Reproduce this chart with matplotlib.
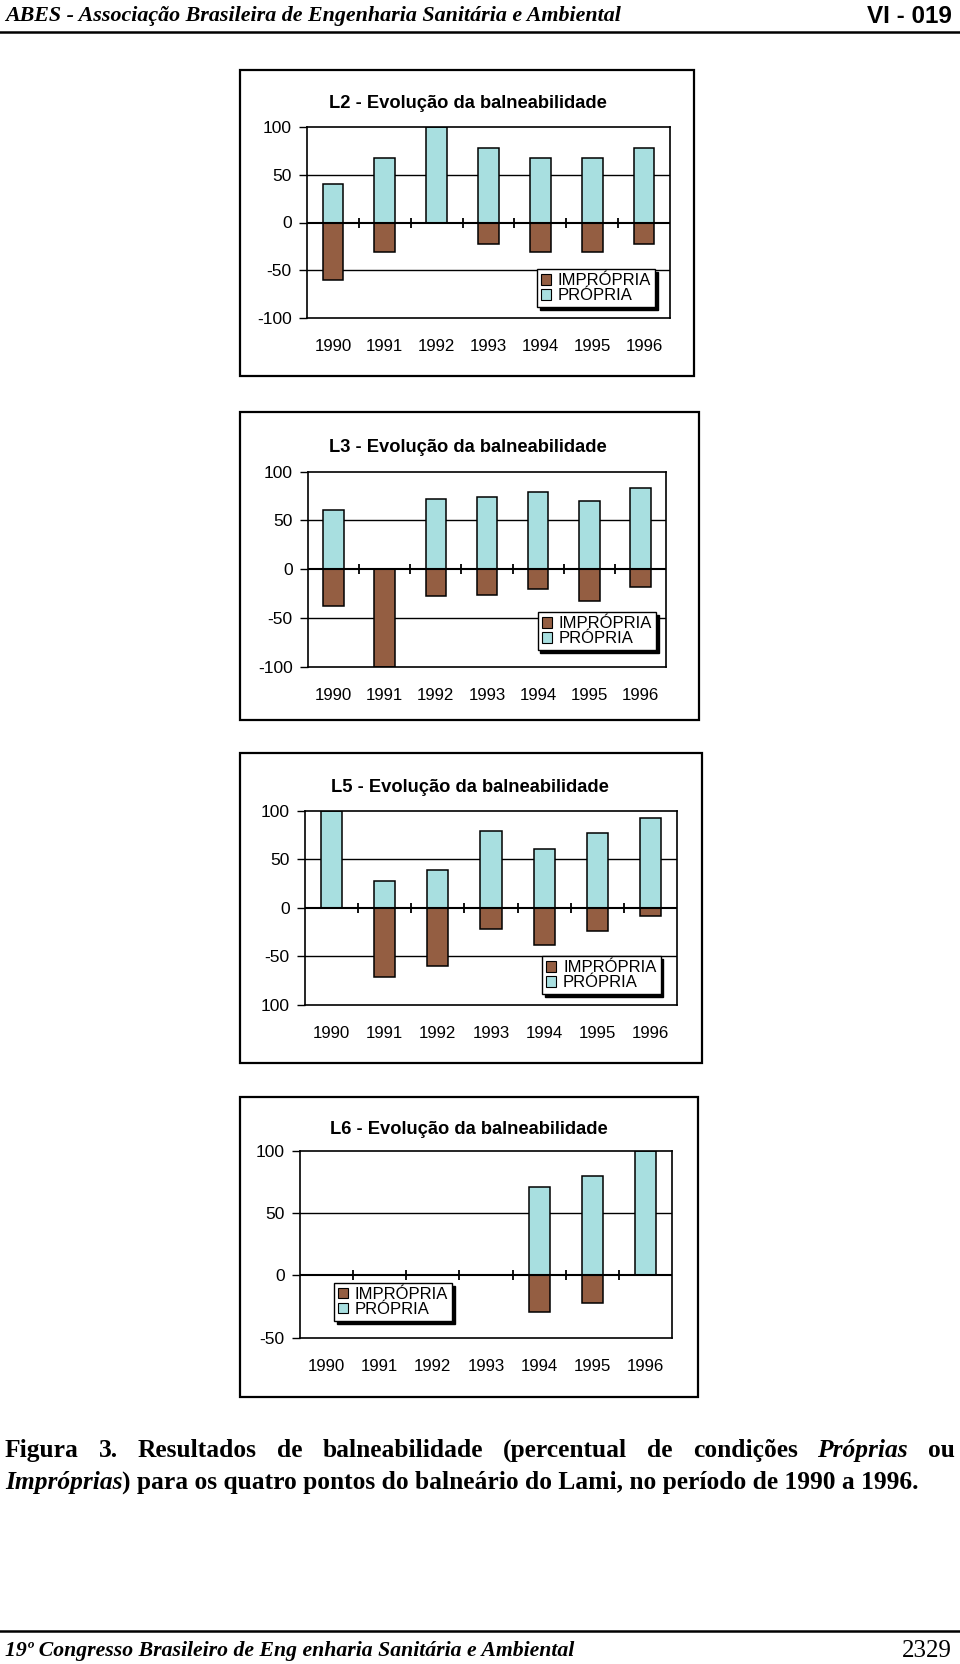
import matplotlib
matplotlib.use("Agg")
import matplotlib.pyplot as plt
from matplotlib.patches import Rectangle, Patch
import numpy as np

# ---------------- data ----------------
years = ["1990", "1991", "1992", "1993", "1994", "1995", "1996"]

l2_propria = [40, 67, 100, 78, 67, 67, 78]
l2_impropria = [60, 31, 0, 22, 31, 31, 22]

l3_propria = [61, 0, 72, 74, 79, 70, 83]
l3_impropria = [38, 100, 27, 26, 20, 33, 18]

l5_propria = [100, 28, 39, 79, 61, 77, 92]
l5_impropria = [0, 71, 60, 22, 38, 24, 8]

l6_propria = [0, 0, 0, 0, 71, 80, 100]
l6_impropria = [0, 0, 0, 0, 29, 22, 0]

titles = ["L2 - Evolução da balneabilidade", "L3 - Evolução da balneabilidade",
          "L5 - Evolução da balneabilidade", "L6 - Evolução da balneabilidade"]
yticks_full = [100, 50, 0, -50, -100]
ytick_labels_l2 = ["100", "50", "0", "-50", "-100"]
ytick_labels_l3 = ["100", "50", "0", "-50", "-100"]
ytick_labels_l5 = ["100", "50", "0", "-50", "100"]
yticks_l6 = [100, 50, 0, -50]
ytick_labels_l6 = ["100", "50", "0", "-50"]
legend_labels = ["IMPRÓPRIA", "PRÓPRIA"]

header_left = "ABES - Associação Brasileira de Engenharia Sanitária e Ambiental"
header_right = "VI - 019"
footer_left = "19º Congresso Brasileiro de Eng enharia Sanitária e Ambiental"
footer_right = "2329"

# ---------------- style ----------------
W, H = 960, 1664
BROWN = "#945e42"
CYAN = "#a8dfe0"
SANS = ["Liberation Sans", "DejaVu Sans"]
SERIF = ["Liberation Serif", "DejaVu Serif"]

fig = plt.figure(figsize=(W / 100, H / 100), dpi=100)
fig.patch.set_facecolor("white")


def fx(x):
    return x / W


def fy(y):
    return 1 - y / H


def add_axes_px(x0, y0, x1, y1):
    return fig.add_axes([fx(x0), fy(y1), fx(x1 - x0), (y1 - y0) / H])


charts = [
    dict(box=(240, 70, 694, 376), plot=(307, 126.7, 670, 318.3), ylim=(-100, 100),
         yt=yticks_full, ytl=ytick_labels_l2, title=titles[0], tpos=(468, 103),
         pro=l2_propria, imp=l2_impropria, leg=("upper right", (0.959, 0.257))),
    dict(box=(240, 412, 699, 720), plot=(308, 471.7, 666, 666.7), ylim=(-100, 100),
         yt=yticks_full, ytl=ytick_labels_l3, title=titles[1], tpos=(468, 447),
         pro=l3_propria, imp=l3_impropria, leg=("upper right", (0.972, 0.280))),
    dict(box=(240, 753, 702, 1063), plot=(305, 810.7, 677, 1005), ylim=(-100, 100),
         yt=yticks_full, ytl=ytick_labels_l5, title=titles[2], tpos=(470, 788),
         pro=l5_propria, imp=l5_impropria, leg=("upper right", (0.956, 0.252))),
    dict(box=(240, 1097, 698, 1397), plot=(300, 1150.7, 672, 1337.7), ylim=(-50, 100),
         yt=yticks_l6, ytl=ytick_labels_l6, title=titles[3], tpos=(469, 1129),
         pro=l6_propria, imp=l6_impropria, leg=("upper left", (0.091, 0.293))),
]

for c in charts:
    bx0, by0, bx1, by1 = c["box"]
    fig.patches.append(Rectangle((fx(bx0), fy(by1)), fx(bx1 - bx0), (by1 - by0) / H,
                                 transform=fig.transFigure, fill=False,
                                 edgecolor="black", lw=1.6, zorder=0))
    ax = add_axes_px(*c["plot"])
    x = np.arange(len(years))
    pro = np.array(c["pro"], dtype=float)
    imp = np.array(c["imp"], dtype=float)
    ax.set_xlim(-0.5, len(years) - 0.5)
    ax.set_ylim(*c["ylim"])
    # gridlines
    for v in c["yt"]:
        if v != 0 and c["ylim"][0] < v < c["ylim"][1]:
            ax.axhline(v, color="black", lw=1.0, zorder=1)
    ax.bar(x, pro, width=0.4, color=CYAN, edgecolor="black", lw=1.1, zorder=2)
    ax.bar(x, -imp, width=0.4, color=BROWN, edgecolor="black", lw=1.1, zorder=2)
    ax.axhline(0, color="black", lw=1.5, zorder=3)
    bounds = x[:-1] + 0.5
    ax.plot(bounds, np.zeros_like(bounds), linestyle="none", marker="|",
            markersize=7, mew=1.3, color="black", zorder=3)
    ax.set_yticks(c["yt"])
    ax.set_yticklabels(c["ytl"], fontsize=12.5, family=SANS)
    ax.set_xticks(x)
    ax.set_xticklabels(years, fontsize=12.2, family=SANS)
    ax.tick_params(axis="x", length=0, pad=15)
    ax.tick_params(axis="y", length=6, width=1.0, pad=5, direction="out")
    for s in ax.spines.values():
        s.set_linewidth(1.2)
        s.set_color("black")
    fig.text(fx(c["tpos"][0]), fy(c["tpos"][1]), c["title"], ha="center", va="center",
             fontsize=13.2, fontweight="bold", family=SANS)
    handles = [Patch(facecolor=BROWN, edgecolor="black", lw=0.8),
               Patch(facecolor=CYAN, edgecolor="black", lw=0.8)]
    leg = ax.legend(handles, legend_labels, loc=c["leg"][0], bbox_to_anchor=c["leg"][1],
                    borderaxespad=0, frameon=True, fancybox=False,
                    shadow={"color": "black", "alpha": 1.0},
                    framealpha=1, edgecolor="black", prop={"family": SANS, "size": 12},
                    handlelength=0.6, handleheight=0.6, handletextpad=0.4,
                    labelspacing=0.0, borderpad=0.25)
    leg.get_frame().set_linewidth(1.0)
    leg.set_zorder(5)

# ---------------- header / footer ----------------
fig.text(fx(5), fy(21), header_left, ha="left", va="baseline", fontsize=15.8,
         fontweight="bold", fontstyle="italic", family=SERIF)
fig.text(fx(952), fy(23), header_right, ha="right", va="baseline", fontsize=17.5,
         fontweight="bold", family=SANS)
fig.add_artist(plt.Line2D([0, 1], [fy(32), fy(32)], transform=fig.transFigure,
                          color="black", lw=1.8))
fig.add_artist(plt.Line2D([0, 1], [fy(1631), fy(1631)], transform=fig.transFigure,
                          color="black", lw=1.8))
fig.text(fx(5), fy(1656), footer_left, ha="left", va="baseline", fontsize=15.7,
         fontweight="bold", fontstyle="italic", family=SERIF)
fig.text(fx(952), fy(1657), footer_right, ha="right", va="baseline", fontsize=18,
         family=SERIF)

# ---------------- caption (justified first line) ----------------
renderer = fig.canvas.get_renderer()
CAP_SIZE = 18.4

line1 = [[("Figura", False)], [("3.", False)], [("Resultados", False)], [("de", False)],
         [("balneabilidade", False)], [("(percentual", False)], [("de", False)],
         [("condições", False)], [("Próprias", True)], [("ou", False)]]
line2 = [[("Impróprias", True),
          (") para os quatro pontos do balneário do Lami, no período de 1990 a 1996.", False)]]


def seg_width(txt, italic):
    t = fig.text(0, 0, txt, fontsize=CAP_SIZE, fontweight="bold",
                 fontstyle="italic" if italic else "normal", family=SERIF)
    w = t.get_window_extent(renderer).width
    t.remove()
    return w


def draw_words(words, x0, x1, y, justify):
    widths = [sum(seg_width(s, it) for s, it in w) for w in words]
    if justify and len(words) > 1:
        gap = (x1 - x0 - sum(widths)) / (len(words) - 1)
    else:
        gap = 0
    x = x0
    for w, wd in zip(words, widths):
        xs = x
        for s, it in w:
            fig.text(fx(xs), fy(y), s, ha="left", va="baseline", fontsize=CAP_SIZE,
                     fontweight="bold", fontstyle="italic" if it else "normal", family=SERIF)
            xs += seg_width(s, it)
        x += wd + gap


draw_words(line1, 5, 955, 1457, True)
draw_words(line2, 5, 955, 1489, False)

fig.savefig("out.png", dpi=100)
